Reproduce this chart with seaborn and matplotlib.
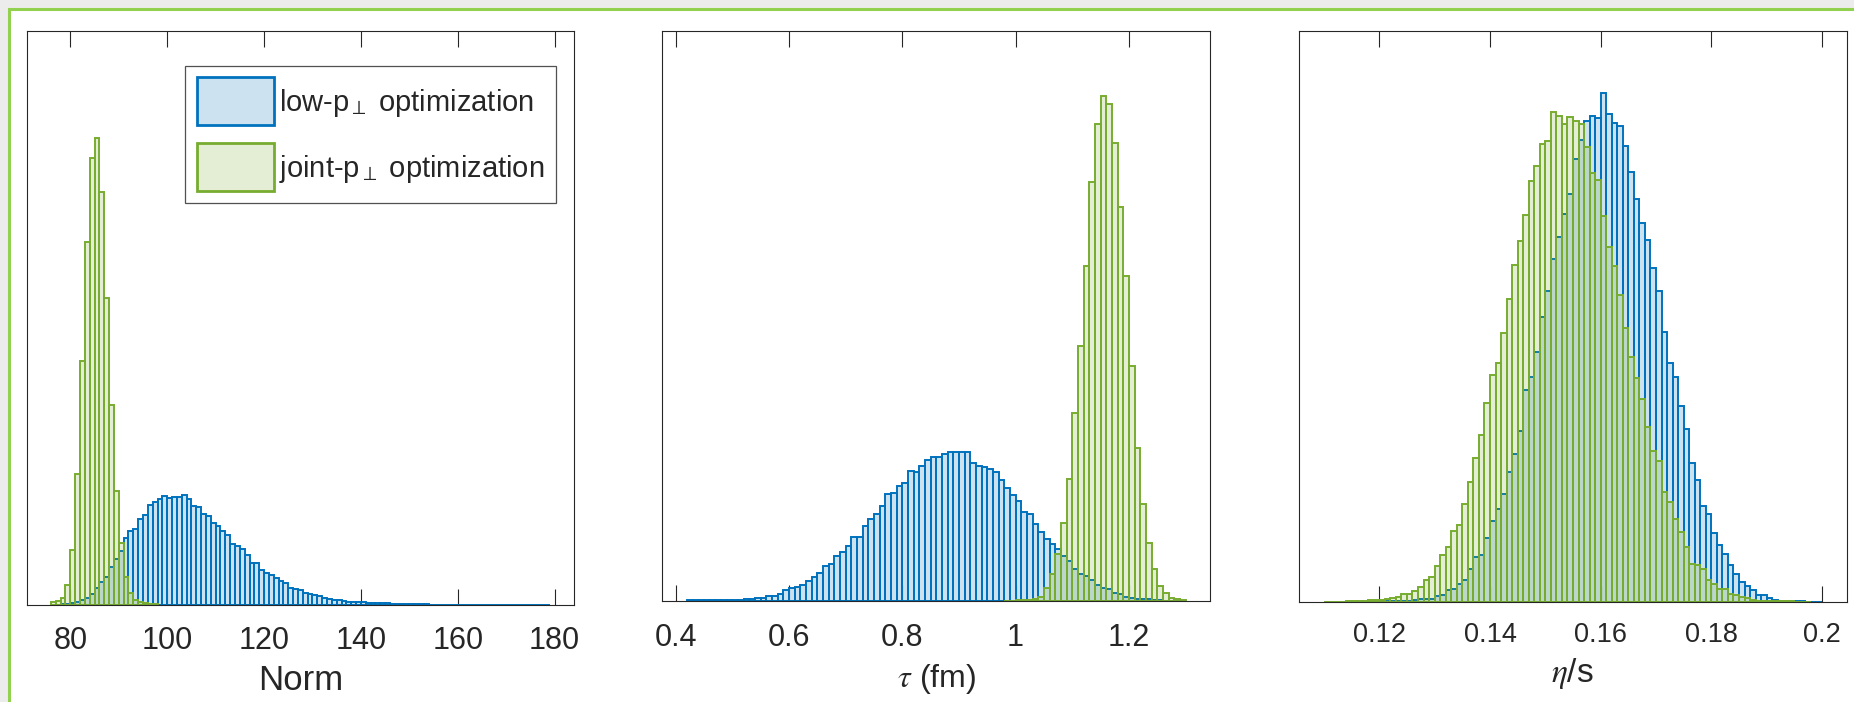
import numpy as np
import pandas as pd
import seaborn as sns
import matplotlib.pyplot as plt
from matplotlib.patches import Rectangle, Patch

# bar heights, in percent of the (unlabelled) y-axis range
# Norm, bins of width 1
norm_low_start = 77
norm_low = [0.05, 0.1, 0.2, 0.3, 0.5, 0.8, 1.3, 2.0, 3.0, 4.0, 4.9, 6.7, 8.0, 9.4,
            11.6, 12.9, 13.2, 15.0, 15.7, 17.4, 18.0, 18.4, 19.0, 18.7, 18.9, 18.9,
            19.2, 18.4, 17.2, 17.1, 15.9, 15.5, 14.3, 13.8, 12.9, 12.2, 10.7, 10.2,
            9.8, 8.7, 7.4, 7.3, 6.1, 5.6, 5.2, 4.7, 4.1, 3.8, 3.0, 2.8, 2.6, 2.1,
            2.0, 1.7, 1.6, 1.2, 1.0, 0.9, 0.8, 0.7, 0.6, 0.6, 0.5, 0.5, 0.4, 0.4,
            0.35, 0.3, 0.3, 0.25, 0.2, 0.2, 0.15,
            0.12, 0.12, 0.1, 0.1, 0.08, 0.08, 0.07, 0.06, 0.06, 0.05,
            0.05, 0.04, 0.04, 0.04, 0.03, 0.03, 0.03, 0.02, 0.02, 0.02,
            0.02, 0.02, 0.01, 0.01, 0.01, 0.01, 0.01, 0.01, 0.01]
norm_joint_start = 76
norm_joint = [0.5, 0.7, 1.2, 3.5, 9.6, 22.8, 42.5, 63.2, 77.9, 81.4, 72.0, 53.5,
              34.8, 19.9, 10.8, 4.9, 2.1, 0.9, 0.5, 0.3, 0.2, 0.1]

# tau, bins of width 0.01
tau_low_start = 0.42
tau_low = [0.09, 0.09, 0.09, 0.09, 0.11, 0.12, 0.14, 0.18,
           0.23, 0.26, 0.32, 0.39, 0.46, 0.58, 0.79, 0.88, 1.28, 1.88,
           2.28, 2.46, 2.76, 3.51, 4.21, 4.92, 6.15, 6.55, 7.95, 8.55,
           9.60, 11.29, 11.24, 13.17, 14.35, 15.33, 16.73, 18.74, 19.02, 20.14,
           20.77, 22.77, 22.60, 23.70, 24.71, 25.34, 25.34, 25.86, 26.22, 26.16,
           26.11, 26.11, 24.23, 23.76, 23.53, 23.23, 22.65, 21.19, 19.84, 18.56,
           17.51, 15.58, 15.22, 13.57, 12.12, 10.83, 9.96, 9.18, 7.81, 6.94,
           5.67, 4.74, 4.30, 3.60, 2.84, 2.23, 2.05, 1.46, 1.18, 0.76,
           0.58, 0.40, 0.40, 0.30, 0.23, 0.12, 0.05, 0.04, 0.02]
tau_joint_start = 0.98
tau_joint = [0.04, 0.05, 0.09, 0.14, 0.23, 0.35, 0.70, 2.28, 4.79, 8.31, 13.73,
             21.33, 33.05, 44.65, 58.82, 73.45, 83.71, 88.67, 87.22, 80.42, 69.06,
             56.94, 41.21, 26.92, 16.98, 10.13, 5.57, 2.63, 1.35, 0.58, 0.30, 0.12]

# eta/s, bins of width 0.001
eta_low_start = 0.116
eta_low = [0.05, 0.05, 0.06, 0.06,
           0.10, 0.12, 0.12, 0.18, 0.18, 0.24, 0.36, 0.54, 0.54, 0.60,
           1.08, 1.19, 2.03, 2.33, 3.23, 3.82, 5.73, 7.83, 8.30, 11.29,
           14.16, 16.37, 19.00, 22.82, 25.87, 29.93, 37.10, 39.37, 43.73, 50.00,
           54.48, 60.10, 63.98, 67.92, 71.51, 77.60, 80.88, 84.29, 85.19, 84.77,
           89.13, 85.48, 83.87, 83.45, 79.81, 75.39, 70.55, 66.43, 63.38, 58.48,
           54.42, 47.25, 41.94, 39.37, 34.29, 30.23, 24.43, 21.45, 16.85, 15.35,
           12.01, 9.92, 8.42, 6.51, 4.90, 3.52, 2.75, 2.03, 1.31, 1.14,
           0.72, 0.42, 0.24, 0.24, 0.12, 0.12, 0.12, 0.06, 0.06, 0.06]
eta_joint_start = 0.110
eta_joint = [0.05, 0.05, 0.06, 0.08, 0.10, 0.12,
             0.24, 0.24, 0.36, 0.42,
             0.42, 0.54, 0.66, 0.84, 1.43, 1.43, 1.91, 2.63, 3.82, 4.42,
             6.33, 8.30, 9.62, 12.49, 13.50, 17.14, 21.03, 25.15, 29.33, 34.77,
             39.78, 41.94, 47.13, 53.11, 59.08, 63.14, 67.86, 73.72, 76.28, 80.29,
             80.76, 85.78, 85.07, 83.75, 84.95, 84.17, 83.75, 79.75, 75.09, 73.89,
             67.56, 62.25, 58.78, 53.70, 48.03, 42.95, 39.19, 35.60, 30.70, 26.40,
             24.73, 19.35, 17.56, 14.46, 12.19, 9.68, 6.69, 6.51, 5.73, 3.94,
             3.23, 2.33, 2.33, 1.43, 1.14, 0.96, 0.66, 0.42, 0.24, 0.24,
             0.12, 0.12, 0.12, 0.12, 0.12, 0.06, 0.06, 0.06]

labels = ["low-p$_\\perp$ optimization", "joint-p$_\\perp$ optimization"]
blue, green = "#0072BD", "#77AC30"
blue_face = (0.0, 0.447, 0.741, 0.2)
green_face = (0.467, 0.675, 0.188, 0.2)

sns.set_style("white")
plt.rcParams["font.family"] = ["Liberation Sans", "DejaVu Sans"]
plt.rcParams["mathtext.fontset"] = "stix"


def hist(ax, start, step, heights, face, edge, label):
    n = len(heights)
    edges = [round(start + step * i, 6) for i in range(n + 1)]
    df = pd.DataFrame({"x": [(edges[i] + edges[i + 1]) / 2 for i in range(n)],
                       "w": heights})
    sns.histplot(data=df, x="x", weights="w", bins=edges, ax=ax,
                 facecolor=face, edgecolor=edge, linewidth=1.4, label=label)


fig = plt.figure(figsize=(18.54, 7.02), dpi=100)
fig.patch.set_facecolor("#ececec")
fig.add_artist(Rectangle((9 / 1854, -0.1), 1.2, (702 - 9) / 702 + 0.1,
                         transform=fig.transFigure, facecolor="white",
                         edgecolor="#92d050", linewidth=2.2, zorder=-1))

ax1 = fig.add_axes([26.5 / 1854, 97 / 702, 547.5 / 1854, 574 / 702])
ax2 = fig.add_axes([662.3 / 1854, 101 / 702, 548.1 / 1854, 570 / 702])
ax3 = fig.add_axes([1298.5 / 1854, 100 / 702, 548.4 / 1854, 571 / 702])

hist(ax1, norm_low_start, 1, norm_low, blue_face, blue, labels[0])
hist(ax1, norm_joint_start, 1, norm_joint, green_face, green, labels[1])
hist(ax2, tau_low_start, 0.01, tau_low, blue_face, blue, labels[0])
hist(ax2, tau_joint_start, 0.01, tau_joint, green_face, green, labels[1])
hist(ax3, eta_low_start, 0.001, eta_low, blue_face, blue, labels[0])
hist(ax3, eta_joint_start, 0.001, eta_joint, green_face, green, labels[1])

# axis, xlim, ticks, tick labels, xlabel, tick size, label size, tick pad, label pad
setup = [
    (ax1, (70.95, 184.0), [80, 100, 120, 140, 160, 180],
     ["80", "100", "120", "140", "160", "180"], "Norm", 22, 25, 15, 6),
    (ax2, (0.3762, 1.3439), [0.4, 0.6, 0.8, 1.0, 1.2],
     ["0.4", "0.6", "0.8", "1", "1.2"], "$\\tau$ (fm)", 22, 23, 15.5, 7),
    (ax3, (0.1054, 0.2045), [0.12, 0.14, 0.16, 0.18, 0.2],
     ["0.12", "0.14", "0.16", "0.18", "0.2"], "$\\eta$/s", 19.5, 24, 14.5, 6),
]
for ax, xlim, ticks, ticklabels, xlabel, tsize, lsize, tpad, lpad in setup:
    ax.set_xlim(*xlim)
    ax.set_ylim(0, 100)
    ax.set_xticks(ticks)
    ax.set_xticklabels(ticklabels)
    ax.set_yticks([])
    ax.set_ylabel("")
    ax.set_xlabel(xlabel, fontsize=lsize, color="#262626", labelpad=lpad)
    ax.tick_params(axis="x", direction="in", top=True, bottom=True,
                   length=11.5, width=0.8, color="#262626",
                   labelsize=tsize, labelcolor="#262626", pad=tpad)
    for side in ["left", "right", "top", "bottom"]:
        ax.spines[side].set_visible(True)
        ax.spines[side].set_color("#262626")
        ax.spines[side].set_linewidth(0.8)

handles = [Patch(facecolor=blue_face, edgecolor=blue, linewidth=2.0),
           Patch(facecolor=green_face, edgecolor=green, linewidth=2.0)]
leg = ax1.legend(handles, labels, loc="upper right",
                 bbox_to_anchor=(0.9664, 0.9394), borderaxespad=0,
                 fontsize=21, frameon=True, fancybox=False,
                 handlelength=2.65, handleheight=2.15, handletextpad=0.15,
                 labelspacing=0.62, borderpad=0.4)
leg.get_frame().set_edgecolor("#262626")
leg.get_frame().set_linewidth(0.9)

fig.savefig("out.png", dpi=100, facecolor=fig.get_facecolor())
